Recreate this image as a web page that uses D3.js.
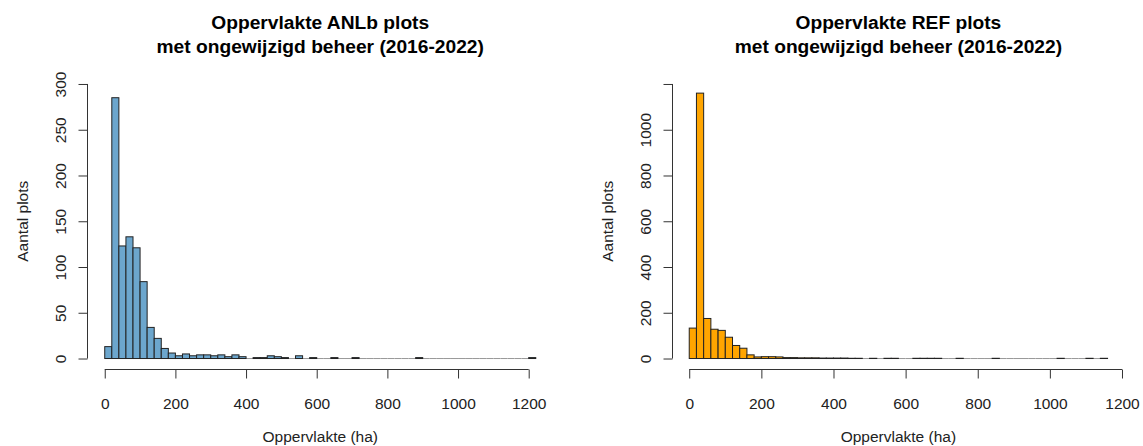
<!DOCTYPE html>
<html lang="nl">
<head>
<meta charset="UTF-8">
<title>Oppervlakte ANLb / REF plots</title>
<script src="https://d3js.org/d3.v7.min.js"></script>
<style>
  body { margin: 0; background: #fff; overflow: hidden; }
  svg { display: block; font-family: "Liberation Sans", Arial, sans-serif; }
  .title { font-weight: bold; font-size: 19.2px; fill: #000; }
  .lab { font-size: 15.5px; fill: #222; }
  .tick text { font-size: 15.5px; fill: #222; font-family: "Liberation Sans", Arial, sans-serif; }
  .tick line, .axline { stroke: #333; stroke-width: 1; }
  .bar { stroke: #222; stroke-width: 1; }
  .empty { stroke: #999; stroke-width: 1; }
</style>
</head>
<body>
<div id="chart"></div>
<script>
// histogram bins are 20 ha wide, first bin starts at 0
const binWidth = 20;

// ANLb plots, counts per bin (0-20, 20-40, ... 1200-1220)
const anlbCounts = [
  13, 285, 123, 133, 121, 84, 34, 22, 11, 6,
  3, 5, 3, 4, 4, 3, 4, 2, 4, 2,
  0, 1, 1, 3, 2, 1, 0, 3, 0, 1,
  0, 0, 1, 0, 0, 1, 0, 0, 0, 0,
  0, 0, 0, 0, 1, 0, 0, 0, 0, 0,
  0, 0, 0, 0, 0, 0, 0, 0, 0, 0,
  1
];

// REF plots, counts per bin (0-20, ... 1140-1160)
const refCounts = [
  133, 1160, 175, 128, 123, 93, 57, 45, 16, 7,
  8, 8, 7, 4, 4, 3, 3, 3, 2, 2,
  2, 2, 1, 1, 0, 1, 0, 1, 1, 0,
  0, 1, 1, 1, 1, 0, 0, 1, 0, 0,
  0, 0, 1, 0, 0, 0, 0, 0, 0, 0,
  0, 1, 0, 0, 0, 1, 0, 1
];

const xTicks = [0, 200, 400, 600, 800, 1000, 1200];
const anlbYTicks = [0, 50, 100, 150, 200, 250, 300];
const refYTicks = [0, 200, 400, 600, 800, 1000, 1200];
const refYLabels = ["0", "200", "400", "600", "800", "1000", ""];

const titles = [
  ["Oppervlakte ANLb plots", "met ongewijzigd beheer (2016-2022)"],
  ["Oppervlakte REF plots", "met ongewijzigd beheer (2016-2022)"]
];
const xTitle = "Oppervlakte (ha)";
const yTitle = "Aantal plots";

const width = 1143, height = 446;
const svg = d3.select("#chart").append("svg")
  .attr("width", width).attr("height", height);

// plot region like R: limits padded by 4%
const plotTop = 73, plotBottom = 369.5;

function drawPanel(counts, color, left, right, yMax, yTicks, yLabels, title) {
  const bins = counts.map((c, i) => ({ x0: i * binWidth, x1: (i + 1) * binWidth, n: c }));
  const xMax = bins[bins.length - 1].x1;
  const x = d3.scaleLinear()
    .domain([-0.04 * xMax, 1.04 * xMax])
    .range([left, right]);
  const y = d3.scaleLinear()
    .domain([-0.04 * yMax, 1.04 * yMax])
    .range([plotBottom, plotTop]);

  const g = svg.append("g");

  // empty bins still get a (flat) outline, as in R's hist()
  g.selectAll("line.empty")
    .data(bins.filter(d => d.n === 0))
    .join("line")
    .attr("class", "empty")
    .attr("x1", d => x(d.x0)).attr("x2", d => x(d.x1))
    .attr("y1", y(0)).attr("y2", y(0));

  g.selectAll("rect.bar")
    .data(bins.filter(d => d.n > 0))
    .join("rect")
    .attr("class", "bar")
    .attr("x", d => x(d.x0))
    .attr("width", d => x(d.x1) - x(d.x0))
    .attr("y", d => y(d.n))
    .attr("height", d => y(0) - y(d.n))
    .attr("fill", color);

  // x axis
  const xa = g.append("g")
    .attr("transform", `translate(0,${plotBottom})`)
    .call(d3.axisBottom(x).tickValues(xTicks).tickSize(9).tickFormat(d3.format("d")));
  xa.select(".domain").remove();
  xa.selectAll("text").attr("y", 39).attr("dy", null);
  xa.append("line").attr("class", "axline")
    .attr("x1", x(xTicks[0])).attr("x2", x(xTicks[xTicks.length - 1]));

  // y axis
  const ya = g.append("g")
    .attr("transform", `translate(${left},0)`)
    .call(d3.axisLeft(y).tickValues(yTicks).tickSize(9)
      .tickFormat((d, i) => yLabels ? yLabels[i] : d));
  ya.select(".domain").remove();
  ya.selectAll("text")
    .attr("transform", "rotate(-90)")
    .attr("x", 0).attr("y", -22).attr("dy", null)
    .attr("text-anchor", "middle");
  ya.append("line").attr("class", "axline")
    .attr("y1", y(yTicks[0])).attr("y2", y(yTicks[yTicks.length - 1]));

  const cx = (left + right) / 2;
  g.append("text").attr("class", "title").attr("text-anchor", "middle")
    .attr("x", cx).attr("y", 29).text(title[0]);
  g.append("text").attr("class", "title").attr("text-anchor", "middle")
    .attr("x", cx).attr("y", 52.5).text(title[1]);

  g.append("text").attr("class", "lab").attr("text-anchor", "middle")
    .attr("x", cx).attr("y", 442).text(xTitle);
  g.append("text").attr("class", "lab").attr("text-anchor", "middle")
    .attr("transform", `translate(${left - 60},${(plotTop + plotBottom) / 2}) rotate(-90)`)
    .text(yTitle);
}

drawPanel(anlbCounts, "#6ca6cd", 87.5, 553, 300, anlbYTicks, null, titles[0]);
drawPanel(refCounts, "#ffa500", 672.5, 1124.3, 1200, refYTicks, refYLabels, titles[1]);
</script>
</body>
</html>
